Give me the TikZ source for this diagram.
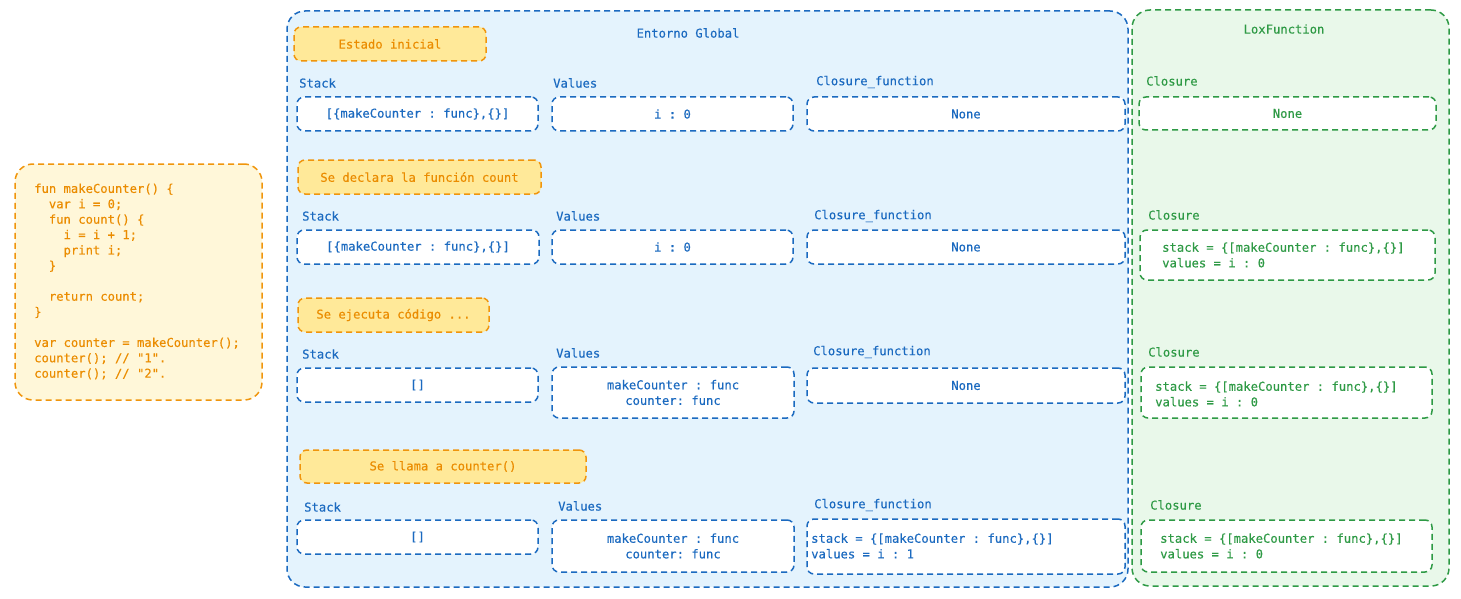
\documentclass[tikz,border=0pt]{standalone}
\usepackage{fontspec}
\setmonofont{DejaVu Sans Mono}[FakeBold=0.3]
\definecolor{bl}{HTML}{1B6AC0}
\definecolor{blfill}{HTML}{E4F3FD}
\definecolor{gr}{HTML}{2E9A45}
\definecolor{grfill}{HTML}{E9F8EA}
\definecolor{orb}{HTML}{F0950C}
\definecolor{ort}{HTML}{EB8C00}
\definecolor{codefill}{HTML}{FFF7D9}
\definecolor{statefill}{HTML}{FFE999}
\tikzset{
  dsh/.style={dash pattern=on 6pt off 4pt, line width=1.5pt},
  container/.style={dsh, rounded corners=18pt, inner sep=0pt},
  bbox/.style={draw=bl, fill=white, dsh, rounded corners=7pt, text=bl, inner sep=0pt},
  gbox/.style={draw=gr, fill=white, dsh, rounded corners=7pt, text=gr, inner sep=0pt},
  statebox/.style={draw=orb, fill=statefill, dsh, rounded corners=7pt, text=ort, inner sep=0pt},
  blab/.style={text=bl, anchor=west, inner sep=0pt},
  glab/.style={text=gr, anchor=west, inner sep=0pt},
  btxt/.style={text=bl, anchor=west, align=left, inner sep=0pt},
  gtxt/.style={text=gr, anchor=west, align=left, inner sep=0pt},
}
\newcommand\bx[7]{%
  \node[#6, minimum width={#4-#2}, minimum height={#5-#3}] (#1) at ({(#2+#4)/2},{(#3+#5)/2}) {#7};}
\begin{document}
\begin{tikzpicture}[x=1pt,y=-1pt, font=\ttfamily\fontsize{12.2}{15.6}\selectfont]
\useasboundingbox (0,0) rectangle (1461,599);
% containers
\bx{code}{15}{164}{262}{400}{container, draw=orb, fill=codefill}{}
\bx{env}{287}{11}{1128}{587}{container, draw=bl, fill=blfill}{}
\bx{lox}{1132}{10}{1449}{586}{container, draw=gr, fill=grfill}{}
\node[text=ort, anchor=west, align=left, inner sep=0pt, font=\ttfamily\fontsize{12.2}{15.4}\selectfont] (codetxt) at (34,281.5) {%
fun makeCounter() \{\\
\phantom{xx}var i = 0;\\
\phantom{xx}fun count() \{\\
\phantom{xxxx}i = i + 1;\\
\phantom{xxxx}print i;\\
\phantom{xx}\}\\
\phantom{x}\\
\phantom{xx}return count;\\
\}\\
\phantom{x}\\
var counter = makeCounter();\\
counter(); // "1".\\
counter(); // "2".};
\node[text=bl, inner sep=0pt] (envtitle) at (688,33) {Entorno Global};
\node[text=gr, inner sep=0pt] (loxtitle) at (1284,29) {LoxFunction};
% row 1
\bx{s1}{294}{27}{486}{61}{statebox}{Estado inicial}
\node[blab] (ls1) at (299,83) {Stack};
\node[blab] (lv1) at (553,83) {Values};
\node[blab] (lc1) at (816,82) {Closure\_function};
\node[glab] (lg1) at (1146,81) {Closure};
\bx{st1}{297}{97}{538}{131}{bbox}{[\{makeCounter : func\},\{\}]}
\bx{va1}{552}{97}{793}{131}{bbox}{i : 0}
\bx{cf1}{807}{97}{1125}{131}{bbox}{None}
\bx{cl1}{1139}{97}{1436}{130}{gbox}{None}
% row 2
\bx{s2}{298}{160}{541}{194}{statebox}{Se declara la función count}
\node[blab] (ls2) at (302,216) {Stack};
\node[blab] (lv2) at (556,216) {Values};
\node[blab] (lc2) at (814,216) {Closure\_function};
\node[glab] (lg2) at (1148,215) {Closure};
\bx{st2}{297}{230}{539}{264}{bbox}{[\{makeCounter : func\},\{\}]}
\bx{va2}{552}{230}{793}{264}{bbox}{i : 0}
\bx{cf2}{807}{230}{1125}{264}{bbox}{None}
\bx{cl2}{1140}{230}{1435}{280}{gbox}{}
\node[gtxt] (cl2t) at (1162,255) {stack = \{[makeCounter : func\},\{\}]\\values = i : 0};
% row 3
\bx{s3}{298}{298}{489}{332}{statebox}{Se ejecuta código ...}
\node[blab] (ls3) at (302,354) {Stack};
\node[blab] (lv3) at (556,353) {Values};
\node[blab] (lc3) at (813,352) {Closure\_function};
\node[glab] (lg3) at (1148,352) {Closure};
\bx{st3}{297}{368}{538}{402}{bbox}{[]}
\bx{va3}{552}{367}{794}{418}{bbox, align=center}{makeCounter : func\\counter: func}
\bx{cf3}{807}{368}{1125}{403}{bbox}{None}
\bx{cl3}{1141}{367}{1432}{418}{gbox}{}
\node[gtxt] (cl3t) at (1155,394) {stack = \{[makeCounter : func\},\{\}]\\values = i : 0};
% row 4
\bx{s4}{300}{450}{586}{483}{statebox}{Se llama a counter()}
\node[blab] (ls4) at (304,507) {Stack};
\node[blab] (lv4) at (558,506) {Values};
\node[blab] (lc4) at (814,505) {Closure\_function};
\node[glab] (lg4) at (1150,505) {Closure};
\bx{st4}{297}{520}{538}{554}{bbox}{[]}
\bx{va4}{552}{520}{794}{572}{bbox, align=center}{makeCounter : func\\counter: func}
\bx{cf4}{807}{519}{1125}{574}{bbox}{}
\node[btxt] (cf4t) at (811,546) {stack = \{[makeCounter : func\},\{\}]\\values = i : 1};
\bx{cl4}{1141}{520}{1432}{572}{gbox}{}
\node[gtxt] (cl4t) at (1160,546) {stack = \{[makeCounter : func\},\{\}]\\values = i : 0};
\end{tikzpicture}
\end{document}
